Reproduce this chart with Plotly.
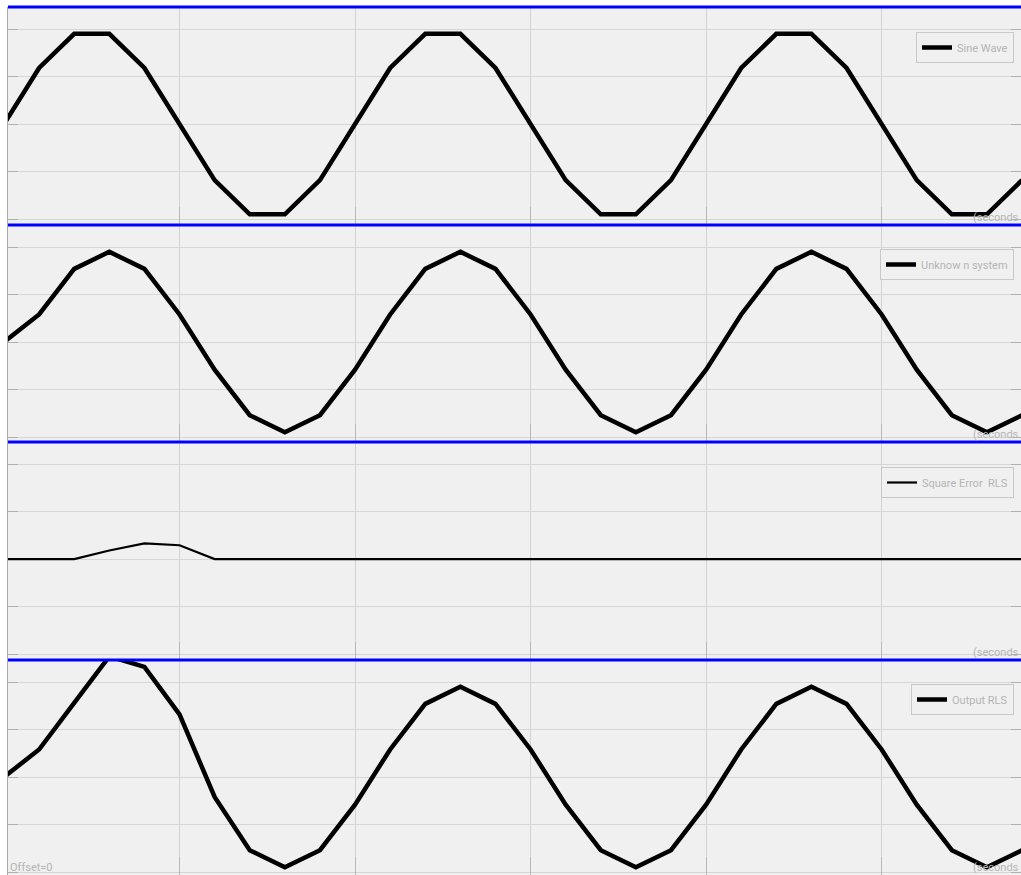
import plotly.graph_objects as go
from plotly.subplots import make_subplots

# ---- data (sample index and values) ----
time = list(range(30))

sine_wave = [0, 0.59, 0.95, 0.95, 0.59, 0, -0.59, -0.95, -0.95, -0.59,
             0, 0.59, 0.95, 0.95, 0.59, 0, -0.59, -0.95, -0.95, -0.59,
             0, 0.59, 0.95, 0.95, 0.59, 0, -0.59, -0.95, -0.95, -0.59]

unknown_system = [0, 0.29, 0.77, 0.95, 0.77, 0.29, -0.29, -0.77, -0.95, -0.77,
                  -0.29, 0.29, 0.77, 0.95, 0.77, 0.29, -0.29, -0.77, -0.95, -0.77,
                  -0.29, 0.29, 0.77, 0.95, 0.77, 0.29, -0.29, -0.77, -0.95, -0.77]

square_error_rls = [0, 0, 0, 0.09, 0.165, 0.145, 0, 0, 0, 0,
                    0, 0, 0, 0, 0, 0, 0, 0, 0, 0,
                    0, 0, 0, 0, 0, 0, 0, 0, 0, 0]

output_rls = [0, 0.29, 0.78, 1.27, 1.16, 0.66, -0.21, -0.77, -0.95, -0.77,
              -0.29, 0.29, 0.77, 0.95, 0.77, 0.29, -0.29, -0.77, -0.95, -0.77,
              -0.29, 0.29, 0.77, 0.95, 0.77, 0.29, -0.29, -0.77, -0.95, -0.77]

series_names = ["Sine Wave", "Unknow n system", "Square Error  RLS", "Output RLS"]
series_values = [sine_wave, unknown_system, square_error_rls, output_rls]
line_widths = [4.5, 4.5, 2.2, 4.5]
y_ticks = [-1, -0.5, 0, 0.5, 1]
x_ticks = [5, 10, 15, 20, 25]

W, H = 1021, 875
ML, MT, MB = 8, 7, 0
PH = H - MT - MB


def pf(py):
    return (H - MB - py) / PH


tops_px = [7, 225, 442, 660]
bots_px = [225, 442, 660, 875]
domains = [[pf(b), pf(t)] for t, b in zip(tops_px, bots_px)]

PX_PER_UNIT = 95.0
Y_TOP = 1.232
y_ranges = [[Y_TOP - (b - t) / PX_PER_UNIT, Y_TOP] for t, b in zip(tops_px, bots_px)]

fig = make_subplots(rows=4, cols=1, shared_xaxes=False, vertical_spacing=0)

FONT = "Roboto, Liberation Sans, sans-serif"
TXT = "#b4b4b4"

legend_tops_px = [32, 249, 467, 684]

for i, (name, vals, lw) in enumerate(zip(series_names, series_values, line_widths)):
    leg = "legend" if i == 0 else f"legend{i+1}"
    fig.add_trace(go.Scatter(x=time, y=vals, mode="lines", name=name,
                             line=dict(color="black", width=lw),
                             legend=leg, showlegend=True),
                  row=i + 1, col=1)

layout_legends = {}
for i, lt in enumerate(legend_tops_px):
    key = "legend" if i == 0 else f"legend{i+1}"
    layout_legends[key] = dict(
        x=(1014 - ML) / (W - ML), xanchor="right",
        y=pf(lt), yanchor="top",
        bgcolor="#f0f0f0", bordercolor="#c8c8c8", borderwidth=1,
        font=dict(family=FONT, size=11, color=TXT),
        itemwidth=30,
    )
fig.update_layout(**layout_legends)

for i in range(4):
    ax = "" if i == 0 else str(i + 1)
    fig.layout["yaxis" + ax].update(
        domain=domains[i], range=y_ranges[i], tickvals=y_ticks,
        showticklabels=False, ticks="inside", ticklen=10, tickcolor="#b0b0b0",
        showgrid=True, gridcolor="#d6d6d6", gridwidth=1, zeroline=False,
        showline=True, linecolor="#a8a8a8", linewidth=1, mirror="ticks",
        layer="below traces", fixedrange=True)
    fig.layout["xaxis" + ax].update(
        range=[0.114, 28.97], tickvals=x_ticks, showticklabels=False,
        ticks="inside", ticklen=18, tickcolor="#b8b8b8",
        showgrid=True, gridcolor="#d2d2d2", gridwidth=1, zeroline=False,
        showline=False, layer="below traces", fixedrange=True)

shapes = []
for t in tops_px:
    shapes.append(dict(type="line", xref="paper", yref="paper",
                       x0=0, x1=1.02, y0=pf(t), y1=pf(t),
                       line=dict(color="#0000ff", width=3), layer="above"))

annotations = []
for b in bots_px:
    annotations.append(dict(text="(seconds", xref="paper", yref="paper",
                            x=1, xanchor="right",
                            y=pf(b - 8), yanchor="middle", showarrow=False,
                            font=dict(family=FONT, size=11, color=TXT)))
annotations.append(dict(text="Offset=0", xref="paper", yref="paper",
                        x=0, xanchor="left", y=pf(867), yanchor="middle",
                        showarrow=False,
                        font=dict(family=FONT, size=11, color=TXT)))

fig.update_layout(
    width=W, height=H,
    margin=dict(l=ML, r=0, t=MT, b=MB, pad=0),
    paper_bgcolor="white", plot_bgcolor="#f0f0f0",
    shapes=shapes, annotations=annotations,
    showlegend=True,
)

fig.write_html("out.html", config={"displayModeBar": False})
